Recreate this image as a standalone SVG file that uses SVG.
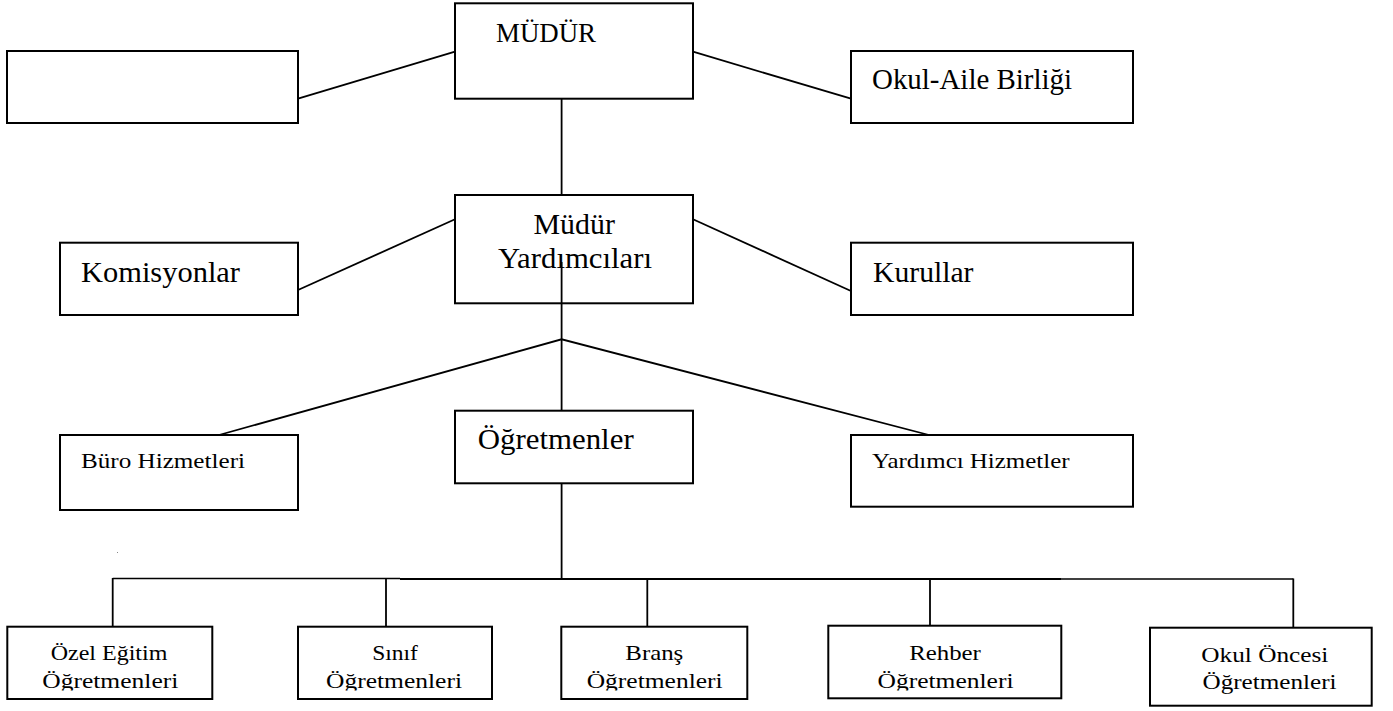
<svg xmlns="http://www.w3.org/2000/svg" width="1393" height="711" viewBox="0 0 1393 711">
<style>
.box{fill:#fff;stroke:#000;stroke-width:2}
.ln{stroke:#000;stroke-width:1.8;fill:none}
.t{font-family:"Liberation Serif","Times New Roman",serif;fill:#000}
.big{font-size:29px}
.mid{font-size:22px}
.c{text-anchor:middle}
</style>
<defs>
<clipPath id="cut" clipPathUnits="userSpaceOnUse"><rect x="0" y="0" width="1393" height="690.5"/></clipPath>
</defs>
<rect width="1393" height="711" fill="#fff"/>
<g id="connectors">
<line class="ln" x1="298" y1="98.7" x2="455" y2="51.7"/>
<line class="ln" x1="693" y1="51.7" x2="851" y2="98.7"/>
<line class="ln" x1="561.6" y1="98.7" x2="561.6" y2="195"/>
<line class="ln" x1="298" y1="290" x2="455" y2="219.3"/>
<line class="ln" x1="693" y1="219.3" x2="851" y2="291"/>
<line class="ln" x1="561.6" y1="262" x2="561.6" y2="410.7"/>
<polyline class="ln" points="219,435 561.6,339.3 929,435"/>
<line class="ln" x1="561.6" y1="483.3" x2="561.6" y2="579"/>
<line class="ln" x1="112.7" y1="578.5" x2="400" y2="578.5" style="stroke-width:1.4"/>
<line class="ln" x1="400" y1="579" x2="1061" y2="579" style="stroke-width:2.2"/>
<line class="ln" x1="1061" y1="579" x2="1293.3" y2="579" style="stroke-width:1.4"/>
<line class="ln" x1="112.7" y1="578" x2="112.7" y2="626.7"/>
<line class="ln" x1="386" y1="578" x2="386" y2="626.7"/>
<line class="ln" x1="647.3" y1="579" x2="647.3" y2="626.7"/>
<line class="ln" x1="930" y1="579" x2="930" y2="625.7"/>
<line class="ln" x1="1293.3" y1="578.5" x2="1293.3" y2="627.7"/>
</g>
<g id="n-bos"><rect class="box" x="7" y="51" width="291" height="72"/></g>
<g id="n-mudur"><rect class="box" x="455" y="3.3" width="238" height="95.4"/>
<text class="t" x="496" y="41.7" font-size="27" textLength="100" lengthAdjust="spacingAndGlyphs">MÜDÜR</text></g>
<g id="n-okulaile"><rect class="box" x="851" y="51" width="282" height="72"/>
<text class="t big" x="872" y="89.3" textLength="200" lengthAdjust="spacingAndGlyphs">Okul-Aile Birliği</text></g>
<g id="n-komisyonlar"><rect class="box" x="60" y="242.7" width="238" height="72.3"/>
<text class="t big" x="81" y="281.7" textLength="159" lengthAdjust="spacingAndGlyphs">Komisyonlar</text></g>
<g id="n-mudury"><rect class="box" x="455" y="195" width="238" height="108.3"/>
<text class="t big" x="533.5" y="234.3" textLength="81.5" lengthAdjust="spacingAndGlyphs">Müdür</text>
<text class="t big" x="498" y="267.7" textLength="154" lengthAdjust="spacingAndGlyphs">Yardımcıları</text></g>
<line class="ln" x1="561.6" y1="262" x2="561.6" y2="303.3"/>
<g id="n-kurullar"><rect class="box" x="851" y="242.7" width="282" height="72.3"/>
<text class="t big" x="873" y="281.7" textLength="100.5" lengthAdjust="spacingAndGlyphs">Kurullar</text></g>
<g id="n-buro"><rect class="box" x="60" y="435" width="238" height="75"/>
<text class="t mid" x="81" y="468.3" textLength="164" lengthAdjust="spacingAndGlyphs">Büro Hizmetleri</text></g>
<g id="n-ogretmenler"><rect class="box" x="455" y="410.7" width="238" height="72.6"/>
<text class="t big" x="477.7" y="449.3" textLength="156" lengthAdjust="spacingAndGlyphs">Öğretmenler</text></g>
<g id="n-yardimci"><rect class="box" x="851" y="435" width="282" height="71.7"/>
<text class="t mid" x="872" y="468.3" textLength="197.5" lengthAdjust="spacingAndGlyphs">Yardımcı Hizmetler</text></g>
<rect x="117" y="552" width="1" height="1" fill="#888"/>
<g id="n-ozel"><rect class="box" x="7.3" y="626.7" width="205" height="72.3"/>
<text class="t mid c" x="109" y="660" textLength="116.7" lengthAdjust="spacingAndGlyphs">Özel Eğitim</text>
<text class="t mid c" x="110.3" y="688.3" textLength="136" lengthAdjust="spacingAndGlyphs" clip-path="url(#cut)">Öğretmenleri</text></g>
<g id="n-sinif"><rect class="box" x="298" y="626.7" width="194" height="72.3"/>
<text class="t mid c" x="395" y="660" textLength="45.7" lengthAdjust="spacingAndGlyphs">Sınıf</text>
<text class="t mid c" x="394" y="688.3" textLength="136" lengthAdjust="spacingAndGlyphs" clip-path="url(#cut)">Öğretmenleri</text></g>
<g id="n-brans"><rect class="box" x="561.3" y="626.7" width="186" height="72.3"/>
<text class="t mid c" x="654.3" y="660" textLength="58" lengthAdjust="spacingAndGlyphs">Branş</text>
<text class="t mid c" x="654.7" y="688.3" textLength="136" lengthAdjust="spacingAndGlyphs" clip-path="url(#cut)">Öğretmenleri</text></g>
<g id="n-rehber"><rect class="box" x="828.3" y="625.7" width="233" height="72.6"/>
<text class="t mid c" x="945" y="660" textLength="71.7" lengthAdjust="spacingAndGlyphs">Rehber</text>
<text class="t mid c" x="945.5" y="688.3" textLength="136" lengthAdjust="spacingAndGlyphs" clip-path="url(#cut)">Öğretmenleri</text></g>
<g id="n-okuloncesi"><rect class="box" x="1150" y="627.7" width="221.7" height="78"/>
<text class="t mid c" x="1264.8" y="661.7" textLength="127" lengthAdjust="spacingAndGlyphs">Okul Öncesi</text>
<text class="t mid c" x="1269.5" y="689.3" textLength="134" lengthAdjust="spacingAndGlyphs">Öğretmenleri</text></g>
</svg>
